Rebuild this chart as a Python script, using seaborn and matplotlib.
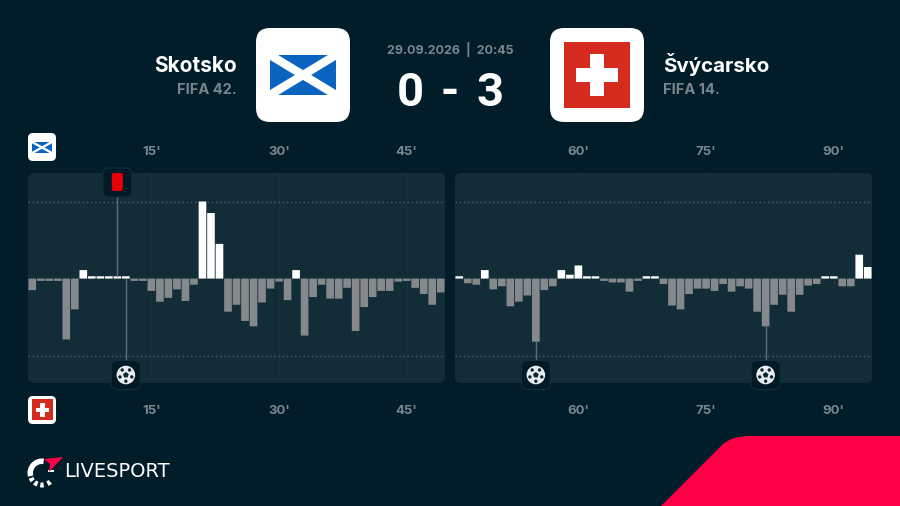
import numpy as np
import pandas as pd
import matplotlib
matplotlib.use("Agg")
import matplotlib.pyplot as plt
import seaborn as sns
from matplotlib.lines import Line2D
from matplotlib.path import Path
from matplotlib.patches import (Circle, FancyBboxPatch, PathPatch, Polygon,
                                Rectangle, Wedge)

BG, PANEL = "#011d2a", "#122c38"
GREY_BAR, WHITE = "#85898c", "#ffffff"
MUTED, DOT = "#79868c", "#4c626b"
RED_CORNER = "#ff0046"

# first half: minutes 1-49, second half: minutes 46-94
minutes_1 = list(range(1, 50))
values_1 = [-15, -3, -3, -3, -79, -40, 11, 3, 3, 3, 3, 3, -3, -3, -16, -30, -25,
            -14, -29, -8, 100, 85, 45, -43, -34, -55, -62, -31, -13, -4, -28, 11,
            -74, -24, -8, -26, -26, -12, -68, -37, -24, -16, -16, -4, -3, -12,
            -20, -34, -18]
minutes_2 = list(range(46, 95))
values_2 = [3, -6, -8, 11, -14, -10, -36, -30, -22, -82, -15, -10, 11, 5, 17, 3,
            3, -3, -5, -5, -17, -3, 3, 3, -7, -35, -40, -20, -13, -13, -16, -7,
            -17, -10, -13, -43, -62, -34, -21, -43, -21, -9, -7, 3, 3, -10, -10,
            31, 15]
ticks_1 = [15, 30, 45]
ticks_2 = [60, 75, 90]
goals_1 = [12]
goals_2 = [55, 82]
red_cards_1 = [11]

sns.set_theme(style="dark")
plt.rcParams["font.family"] = ["Inter", "Roboto", "DejaVu Sans"]

fig = plt.figure(figsize=(9, 5.0601), dpi=100, facecolor=BG)


def pixel_axes(x0, y0, x1, y1, zorder):
    return fig.add_axes([x0 / 900, 1 - y1 / 506, (x1 - x0) / 900, (y1 - y0) / 506],
                        zorder=zorder)


# pixel-space layers under and over the charts
back = pixel_axes(0, 0, 900, 506, 0)
over = pixel_axes(0, 0, 900, 506, 2)
for a in (back, over):
    a.set_xlim(0, 900)
    a.set_ylim(506, 0)
    a.axis("off")
over.patch.set_alpha(0)


def rounded(a, x0, y0, x1, y1, r, **kw):
    a.add_patch(FancyBboxPatch((x0 + r, y0 + r), x1 - x0 - 2 * r, y1 - y0 - 2 * r,
                               boxstyle=f"round,pad={r},rounding_size={r}", **kw))


def draw_half(x0, x1, minutes, values, ticks):
    ax = pixel_axes(x0, 173, x1, 383, 1)
    df = pd.DataFrame({"minute": minutes, "value": values})
    df["side"] = np.where(df["value"] > 0, "home", "away")
    sns.barplot(data=df, x="minute", y="value", hue="side", native_scale=True,
                dodge=False, width=0.9, errorbar=None, legend=False, saturation=1,
                palette={"home": WHITE, "away": GREY_BAR}, linewidth=0, ax=ax)
    for bar in ax.patches:
        bar.set_snap(False)
    ax.set_xlim(minutes[0] - 0.5, minutes[-1] + 0.5)
    ax.set_ylim(-135.5, 137)
    ax.patch.set_alpha(0)
    for s in ax.spines.values():
        s.set_visible(False)
    for m in ticks:
        ax.axvline(m, color="#17303c", lw=0.8, zorder=0)
    for y in (100, -100):
        ax.axhline(y, color=DOT, lw=1, ls=(0, (1, 2)), zorder=0)
    labels = [f"{m}'" for m in ticks]
    ax.set_yticks([])
    ax.set_xticks(ticks)
    ax.set_xticklabels(labels, color=MUTED, fontsize=9.5, fontweight="bold")
    ax.tick_params(axis="x", length=0, pad=15.5)
    top = ax.secondary_xaxis("top")
    top.set_xticks(ticks)
    top.set_xticklabels(labels, color=MUTED, fontsize=9.5, fontweight="bold")
    top.tick_params(axis="x", length=0, pad=10.5)
    top.spines["top"].set_visible(False)
    ax.set_xlabel("")
    ax.set_ylabel("")
    rounded(back, x0, 173, x1, 383, 6, fc=PANEL, ec="none")
    return ax


ax1 = draw_half(28, 445, minutes_1, values_1, ticks_1)
ax2 = draw_half(455, 872, minutes_2, values_2, ticks_2)


def to_px(ax, minute, value):
    x, y = ax.transData.transform((minute, value))
    return x, 506 - y


def icon_box(cx, cy):
    rounded(over, cx - 14.5, cy - 14.5, cx + 14.5, cy + 14.5, 6, fc="#011a25",
            ec="#10303c", lw=0.8)


def draw_ball(cx, cy):
    over.add_patch(Circle((cx, cy), 9.3, fc="#e8eef0", ec="none"))
    ang = np.deg2rad(90 + 72 * np.arange(5))
    over.add_patch(Polygon(np.c_[cx + 3 * np.cos(ang), cy - 3 * np.sin(ang)],
                           fc="#0d2530", ec="none"))
    for a in ang:
        hx, hy = cx + 6.2 * np.cos(a + np.pi / 5), cy - 6.2 * np.sin(a + np.pi / 5)
        over.add_patch(Circle((hx, hy), 1.7, fc="#0d2530", ec="none"))


def draw_goal(ax, minutes, values, minute):
    value = min(values[minutes.index(minute)], 0)
    ax.plot([minute, minute], [value, -128], color="#5d6f77", lw=1, zorder=3,
            clip_on=False)
    cx, cy = to_px(ax, minute, -125)
    icon_box(cx, 375)
    draw_ball(cx, 375)


def draw_red_card(ax, minutes, values, minute):
    value = max(values[minutes.index(minute)], 0)
    ax.plot([minute, minute], [value, 125], color="#5d6f77", lw=1, zorder=3,
            clip_on=False)
    cx, _ = to_px(ax, minute, 0)
    icon_box(cx, 182.5)
    rounded(over, cx - 5.5, 173, cx + 5.5, 191, 2, fc="#e60008", ec="none")


for m in goals_1:
    draw_goal(ax1, minutes_1, values_1, m)
for m in goals_2:
    draw_goal(ax2, minutes_2, values_2, m)
for m in red_cards_1:
    draw_red_card(ax1, minutes_1, values_1, m)


def scot_flag(x0, y0, x1, y1):
    over.add_patch(Rectangle((x0, y0), x1 - x0, y1 - y0, fc="#0b63c0", ec="none"))
    clip = Rectangle((x0, y0), x1 - x0, y1 - y0, transform=over.transData)
    lw = (y1 - y0) * 0.21 * 0.72
    for ys in ((y0, y1), (y1, y0)):
        line = Line2D([x0, x1], ys, color=WHITE, lw=lw, solid_capstyle="projecting")
        over.add_line(line)
        line.set_clip_path(clip)


def swiss_flag(x0, y0, size):
    over.add_patch(Rectangle((x0, y0), size, size, fc="#d52b1e", ec="none"))
    cx, cy = x0 + size / 2, y0 + size / 2
    arm, th = size * 0.318, size * 0.1
    over.add_patch(Rectangle((cx - arm, cy - th), 2 * arm, 2 * th, fc=WHITE, ec="none"))
    over.add_patch(Rectangle((cx - th, cy - arm), 2 * th, 2 * arm, fc=WHITE, ec="none"))


# team badges
rounded(over, 256, 28, 350, 122, 14, fc=WHITE, ec="none")
scot_flag(270, 55, 336, 95)
rounded(over, 550, 28, 644, 122, 14, fc=WHITE, ec="none")
swiss_flag(564, 42, 66)
rounded(over, 28, 133, 56, 161, 5, fc=WHITE, ec="none")
scot_flag(32, 142, 52, 153)
rounded(over, 28, 396, 56, 424, 5, fc=WHITE, ec="none")
swiss_flag(32, 399.5, 21)

# header
over.text(237, 72, "Skotsko", color=WHITE, fontsize=15, fontweight="bold",
          ha="right", va="baseline")
over.text(237, 94, "FIFA 42.", color=MUTED, fontsize=10.5, fontweight="bold",
          ha="right", va="baseline")
over.text(663, 72, "Švýcarsko", color=WHITE, fontsize=14.8, fontweight="bold",
          ha="left", va="baseline")
over.text(663, 94, "FIFA 14.", color=MUTED, fontsize=10.5, fontweight="bold",
          ha="left", va="baseline")
over.text(450, 49, "29.09.2026  |  20:45", color=MUTED, fontsize=9,
          fontweight="bold", ha="center", va="center")
for x, s in ((410, "0"), (450, "-"), (490, "3")):
    over.text(x, 105.5, s, color=WHITE, fontsize=34, fontweight="bold", ha="center",
              va="baseline", family=["Roboto", "DejaVu Sans"])

# logo
over.text(64, 471, "LIVESPORT", color=WHITE, fontsize=14, ha="left", va="center",
          family="DejaVu Sans")
lc = (42, 473)
# y runs downwards on this layer, so angles are negated
over.add_patch(Wedge(lc, 14.5, -195, -82, width=5.5, fc=WHITE, ec="none"))
for a in (212, 240, 270, 305):
    over.add_patch(Wedge(lc, 14.5, -a - 8, -a + 8, width=5, fc=WHITE, ec="none"))
over.add_patch(Rectangle((48, 470.5), 6, 2, fc=WHITE, ec="none"))
over.add_patch(Polygon([(44, 459), (63, 457), (49, 472), (50, 464)], fc=RED_CORNER,
                       ec="none"))

# red corner
verts = [(661, 506), (722, 445), (731, 436), (750, 436), (900, 436), (900, 506),
         (661, 506)]
codes = [Path.MOVETO, Path.LINETO, Path.CURVE3, Path.CURVE3, Path.LINETO, Path.LINETO,
         Path.CLOSEPOLY]
over.add_patch(PathPatch(Path(verts, codes), fc=RED_CORNER, ec="none"))

fig.savefig("out.png", dpi=100, facecolor=BG)
